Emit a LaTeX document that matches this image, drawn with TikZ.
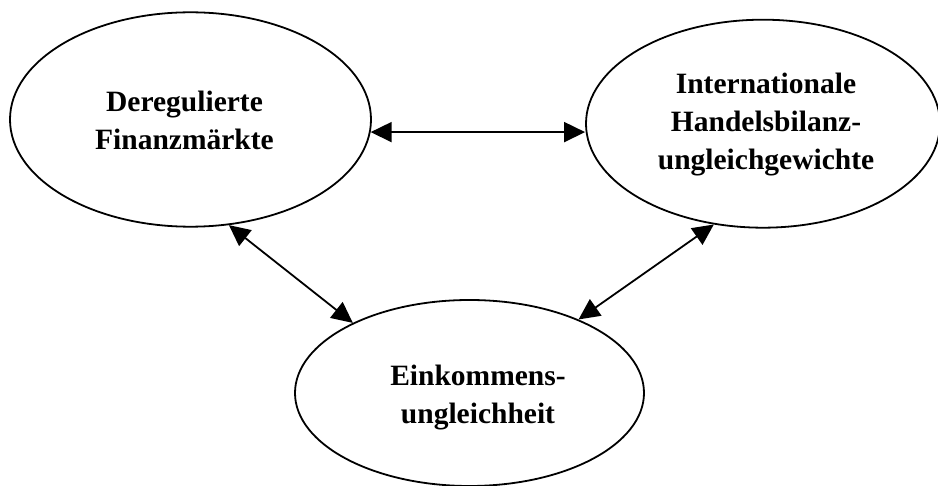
\documentclass[tikz,border=0pt]{standalone}
\usepackage{fontspec}
\setmainfont{Liberation Serif}
\usetikzlibrary{shapes.geometric,arrows.meta}
\begin{document}
\begin{tikzpicture}[x=1pt,y=-1pt,
  bubble/.style={draw=black,ellipse,line width=1.8pt,inner sep=0pt},
  label text/.style={align=center,inner sep=0pt,font=\fontsize{29.5}{38}\selectfont\bfseries},
  link/.style={line width=1.8pt,{Triangle[length=21pt,width=20pt]}-{Triangle[length=21pt,width=20pt]}}]
\useasboundingbox[fill=white] (0,0) rectangle (938,486);
\node[bubble,minimum width=361pt,minimum height=214.4pt] (L) at (190.5,119.5) {};
\node[bubble,minimum width=354pt,minimum height=208pt] (R) at (763,123.7) {};
\node[bubble,minimum width=349pt,minimum height=186pt] (B) at (469.5,393) {};
\node[label text] (Lt) at (184.5,120) {Deregulierte\\Finanzmärkte};
\node[label text] (Rt) at (766,124.2) {Internationale\\Handelsbilanz-\\ungleichgewichte};
\node[label text] (Bt) at (478,397.7) {Einkommens-\\ungleichheit};
\draw[link] (L.-4) -- (L.-4 -| R.west);
\draw[link] (L.-70) -- (B.149);
\draw[link] (R.-116) -- (B.34);
\end{tikzpicture}
\end{document}
